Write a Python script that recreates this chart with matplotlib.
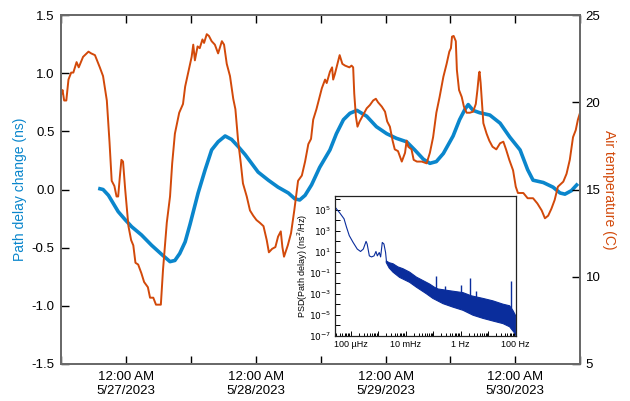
import numpy as np
import matplotlib
matplotlib.use("Agg")
import matplotlib.pyplot as plt
import matplotlib.dates as mdates
from matplotlib.ticker import FixedLocator, FuncFormatter, LogLocator, NullLocator

plt.rcParams['font.family'] = ['Liberation Sans', 'DejaVu Sans']

# --- data ---
# hours after 2023-05-27 00:00
temp_hours = [-12.0, -11.8, -11.5, -11.1, -10.7, -10.2, -9.8, -9.2, -8.8, -8.0, -7.0, -6.5, -5.8,
              -4.9, -4.3, -3.6, -3.1, -2.7, -2.2, -1.8, -1.5, -1.2, -0.9, -0.6, -0.2, 0.4, 0.9,
              1.3, 1.7, 2.2, 2.8, 3.3, 4.0, 4.4, 5.0, 5.5, 6.4, 6.8, 7.5, 8.1, 8.5, 9.0, 9.8,
              10.5, 10.9, 11.5, 12.1, 12.4, 12.7, 13.2, 13.6, 14.1, 14.4, 14.9, 15.3, 15.8, 16.4,
              17.0, 17.7, 18.1, 18.6, 19.2, 19.8, 20.2, 20.7, 21.2, 21.6, 22.3, 22.9, 23.5, 24.1,
              24.7, 25.4, 26.0, 26.4, 27.0, 27.6, 28.1, 28.6, 28.9, 29.2, 29.9, 30.5, 31.1, 31.8,
              32.5, 33.1, 33.7, 34.2, 34.6, 35.2, 36.2, 36.8, 37.1, 37.7, 38.1, 38.3, 38.6, 39.0,
              39.5, 40.0, 40.5, 41.3, 41.7, 42.0, 42.2, 42.5, 42.8, 43.2, 43.9, 44.5, 45.1, 45.7,
              46.2, 46.6, 47.3, 47.9, 48.3, 48.8, 49.3, 49.7, 50.3, 51.0, 51.6, 51.9, 52.2, 52.8,
              53.2, 53.8, 54.7, 55.6, 56.2, 56.8, 57.4, 58.0, 58.7, 59.3, 59.8, 60.1, 60.3, 60.6,
              61.0, 61.2, 61.6, 62.1, 62.5, 63.0, 63.6, 64.2, 64.7, 65.0, 65.3, 65.4, 65.6, 65.9,
              66.1, 66.7, 67.2, 67.8, 68.5, 69.2, 69.8, 70.3, 70.9, 71.6, 72.1, 72.5, 73.5, 74.3,
              75.3, 76.1, 76.9, 77.5, 78.1, 78.7, 79.3, 79.9, 80.9, 81.5, 82.1, 82.7, 83.2, 83.6,
              84.0]
temp_c = [20.5, 20.7, 20.1, 20.1, 21.3, 21.7, 21.7, 22.3, 22.0, 22.6, 22.9, 22.8, 22.7,
          22.0, 21.5, 20.1, 17.7, 15.5, 15.2, 14.6, 14.6, 15.7, 16.7, 16.6, 15.0, 12.9, 12.1,
          11.8, 10.8, 10.7, 10.2, 9.7, 9.4, 8.8, 8.8, 8.4, 8.4, 10.4, 13.1, 14.6, 16.5, 18.2, 19.4,
          19.9, 20.9, 21.75, 22.6, 23.3, 22.4, 23.2, 23.1, 23.6, 23.4, 23.9, 23.8, 23.5, 23.3,
          22.8, 23.5, 23.3, 22.2, 21.5, 20.2, 19.6, 17.8, 16.5, 15.35, 14.6, 13.8, 13.5, 13.25,
          13.1, 12.9, 12.1, 11.4, 11.6, 11.7, 12.3, 12.6, 11.7, 11.15, 11.8, 12.5, 13.8, 15.5,
          15.8, 16.6, 17.6, 17.9, 19.0, 19.6, 20.8, 21.3, 21.1, 21.75, 22.0, 21.3, 21.6, 22.1,
          22.7, 22.2, 22.1, 22.0, 22.1, 22.0, 20.5, 19.2, 18.6, 18.9, 19.3, 19.65, 19.84, 20.1,
          20.2, 20.0, 19.75, 19.46, 18.9, 18.6, 17.8, 17.3, 17.2, 16.6, 17.1, 17.8, 17.45, 17.3,
          16.7, 16.6, 16.6, 16.5, 17.1, 18.0, 19.4, 20.3, 21.46, 22.2, 22.9, 23.1, 23.76, 23.8,
          23.5, 21.85, 20.7, 20.3, 19.75, 19.4, 19.4, 19.46, 19.9, 20.7, 21.66, 21.75, 21.1, 19.75,
          18.8, 18.2, 17.8, 17.45, 17.3, 17.65, 17.74, 17.3, 16.7, 16.1, 15.16, 14.8, 14.8, 14.5,
          14.5, 14.2, 13.8, 13.35, 13.5, 13.9, 14.4, 15.16, 15.45, 15.9, 16.7, 18.0, 18.4, 19.0,
          19.4]

delay_hours = [-5.2, -4.3, -3.3, -2.4, -1.5, -0.2, 1.0, 2.8, 4.7, 6.6, 8.1, 9.0, 9.9, 10.9,
               11.8, 13.3, 14.6, 15.8, 17.0, 18.3, 19.5, 20.7, 22.0, 23.2, 24.4, 26.3, 28.1,
               30.0, 31.2, 32.1, 33.1, 34.3, 35.8, 37.7, 38.9, 40.2, 41.4, 42.7, 44.5, 46.3,
               48.2, 50.0, 51.9, 53.4, 55.0, 56.2, 57.4, 58.7, 60.5, 61.7, 62.7, 63.3, 64.2,
               65.4, 67.3, 69.2, 71.0, 72.9, 74.3, 75.3, 77.2, 79.0, 80.3, 81.2, 82.4, 83.6]
delay_ns = [0.01, 0.0, -0.05, -0.12, -0.19, -0.26, -0.32, -0.39, -0.48, -0.56, -0.62, -0.61,
            -0.55, -0.45, -0.30, -0.03, 0.17, 0.34, 0.41, 0.46, 0.43, 0.37, 0.30, 0.225, 0.15,
            0.08, 0.02, -0.03, -0.08, -0.09, -0.05, 0.04, 0.19, 0.34, 0.48, 0.60, 0.655, 0.68,
            0.63, 0.54, 0.48, 0.44, 0.41, 0.34, 0.26, 0.225, 0.24, 0.31, 0.46, 0.60, 0.69, 0.73,
            0.68, 0.66, 0.64, 0.57, 0.45, 0.34, 0.17, 0.08, 0.06, 0.02, -0.03, -0.04, -0.01, 0.05]

# inset PSD, log10 values
psd_line_logf = [-4.57, -4.39, -4.24, -4.15, -4.05, -3.91, -3.76, -3.64, -3.54, -3.44, -3.40,
                 -3.32, -3.24, -3.15, -3.08, -3.03, -2.96, -2.91, -2.85, -2.79, -2.73, -2.70]
psd_line_logp = [5.25, 4.67, 4.13, 3.33, 2.53, 1.88, 1.25, 1.02, 1.25, 1.98, 1.73,
                 0.6, 0.5, 0.6, 1.02, 0.6, 0.92, 0.5, 1.88, 1.73, 0.92, 0.12]
band_upper_logf = [-2.705, -2.6, -2.46, -2.28, -2.10, -1.855, -1.61, -1.37, -1.13, -0.945,
                   -0.825, -0.40, 0.084, 0.385, 0.81, 1.17, 1.54, 1.78, 1.90, 2.0]
band_upper_logp = [0.12, -0.05, -0.15, -0.45, -0.62, -0.95, -1.42, -1.75, -2.08, -2.40,
                   -2.55, -2.72, -2.90, -3.20, -3.45, -3.68, -4.0, -4.15, -4.6, -5.1]
band_lower_logf = [-2.705, -2.6, -2.46, -2.22, -1.855, -1.61, -1.25, -1.01, -0.64, -0.28,
                   0.084, 0.45, 0.81, 1.17, 1.54, 1.78, 1.96, 2.0]
band_lower_logp = [-0.04, -0.55, -0.95, -1.45, -1.92, -2.38, -3.0, -3.45, -3.95, -4.28,
                   -4.58, -5.05, -5.35, -5.6, -5.85, -6.15, -6.75, -7.0]
spike_logf = [-0.91, -0.58, 0.02, 0.33, 0.57, 1.84]
spike_top = [-1.32, -2.29, -2.22, -1.49, -2.77, -1.80]
spike_base = [-2.6, -2.7, -3.0, -3.3, -3.5, -4.5]

BLUE = '#0a86cc'
ORANGE = '#d2490a'
DARK = '#0a2d9c'
SPINE = '#6a6a6a'

base = np.datetime64('2023-05-27T00:00')


def to_time(hours):
    minutes = np.round(np.array(hours) * 60).astype(int)
    return base + minutes.astype('timedelta64[m]')


def date_label(x, pos):
    d = mdates.num2date(x)
    return "12:00 AM\n%d/%d/%d" % (d.month, d.day, d.year)


fig = plt.figure(figsize=(6.3, 4.01), dpi=100)
ax = fig.add_axes([61.45 / 630, 1 - 364 / 401, 518.6 / 630, 349 / 401])

ax.plot(to_time(delay_hours), delay_ns, color=BLUE, lw=2.6, solid_capstyle='butt')
ax.set_ylim(-1.5, 1.5)
ax.set_yticks([-1.5, -1.0, -0.5, 0.0, 0.5, 1.0, 1.5])
ax.set_yticklabels(['-1.5', '-1.0', '-0.5', '0.0', '0.5', '1.0', '1.5'])
ax.set_xlim(np.datetime64('2023-05-26T12:00'), np.datetime64('2023-05-30T12:00'))
ax.xaxis.set_major_locator(mdates.DayLocator())
ax.xaxis.set_minor_locator(mdates.HourLocator(byhour=[12]))
ax.xaxis.set_major_formatter(FuncFormatter(date_label))
ax.tick_params(which='both', direction='in', length=6, width=1, top=True, labelsize=9.5, pad=5)
ax.set_ylabel('Path delay change (ns)', color=BLUE, fontsize=10, va='center', ha='center')
ax.yaxis.set_label_coords(-0.08, 0.5)

ax2 = ax.twinx()
ax2.plot(to_time(temp_hours), temp_c, color=ORANGE, lw=1.4)
ax2.set_ylim(5, 25)
ax2.set_yticks([5, 10, 15, 20, 25])
ax2.tick_params(which='both', direction='in', length=6, width=1, labelsize=9.5, pad=4)
ax2.set_ylabel('Air temperature (C)', color=ORANGE, fontsize=10, rotation=270,
               va='center', ha='center')
ax2.yaxis.set_label_coords(1.056, 0.5)

for a in (ax, ax2):
    for s in a.spines.values():
        s.set_color(SPINE)
        s.set_linewidth(1.4)

# inset
ins = fig.add_axes([335 / 630, 1 - 335.7 / 401, 180.7 / 630, 139.7 / 401])
ins.set_facecolor('white')
ins.set_xscale('log')
ins.set_yscale('log')
ins.plot(np.power(10.0, psd_line_logf), np.power(10.0, psd_line_logp), color=DARK, lw=0.8)
poly_f = np.concatenate([band_upper_logf, band_lower_logf[::-1]])
poly_p = np.concatenate([band_upper_logp, band_lower_logp[::-1]])
ins.fill(np.power(10.0, poly_f), np.power(10.0, poly_p), color=DARK, lw=0.8, ec=DARK)
ins.vlines(np.power(10.0, spike_logf), np.power(10.0, spike_base), np.power(10.0, spike_top),
           color=DARK, lw=1.0)
ins.set_xlim(2.7e-5, 100)
ins.set_ylim(1e-7, 2e6)

yt = [10.0 ** e for e in range(-7, 7)]
ins.yaxis.set_major_locator(FixedLocator(yt))
ins.yaxis.set_minor_locator(NullLocator())
ins.set_yticklabels([('$10^{%d}$' % e) if e % 2 else '' for e in range(-7, 7)])
ins.xaxis.set_major_locator(FixedLocator([1e-4, 1e-3, 1e-2, 1e-1, 1, 10, 100]))
ins.xaxis.set_minor_locator(LogLocator(base=10, subs=np.arange(2, 10), numticks=20))
ins.set_xticklabels(['100 µHz', '', '10 mHz', '', '1 Hz', '', '100 Hz'])
ins.tick_params(which='both', direction='in', labelsize=6.5, pad=3, width=0.7)
ins.tick_params(which='major', length=3.5)
ins.tick_params(which='minor', length=2)
ins.set_ylabel('PSD(Path delay) (ns$^2$/Hz)', fontsize=6.5, labelpad=-1)
for s in ins.spines.values():
    s.set_color('#222222')
    s.set_linewidth(0.9)

fig.savefig('out.png', dpi=100)
